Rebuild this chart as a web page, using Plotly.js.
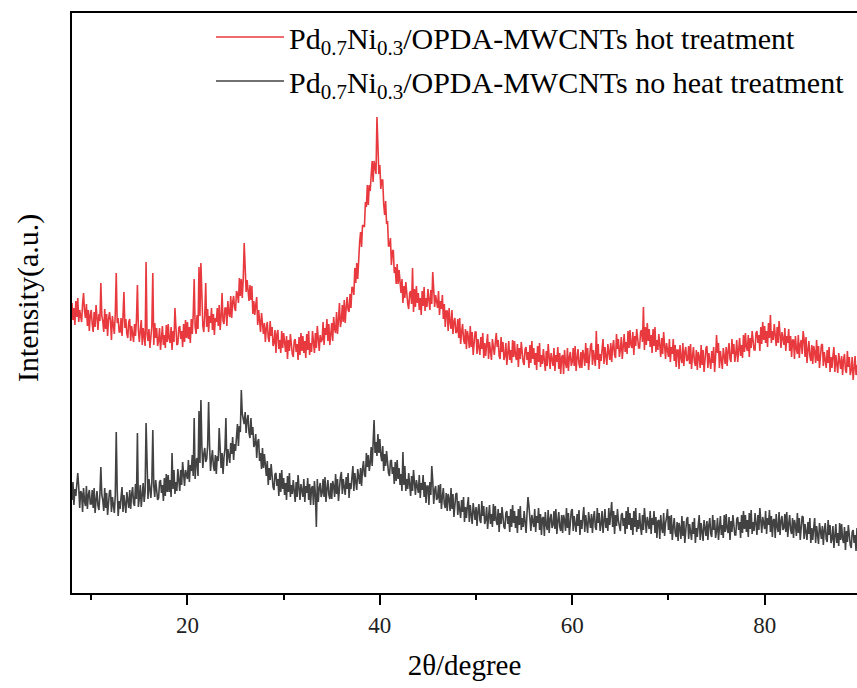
<!DOCTYPE html>
<html>
<head>
<meta charset="utf-8">
<script src="https://cdn.plot.ly/plotly-3.0.1.min.js"></script>
<style>html,body{margin:0;padding:0;background:#fff;}#chart{width:857px;height:688px;}</style>
</head>
<body>
<div id="chart"></div>
<script>
// 2theta grid: 8.0 to 89.9 step 0.1 (one row of 10 per degree)
const twoThetaStart = 8.0;
const twoThetaStep = 0.1;

const seriesNames = [
  "Pd<sub>0.7</sub>Ni<sub>0.3</sub>/OPDA-MWCNTs hot treatment",
  "Pd<sub>0.7</sub>Ni<sub>0.3</sub>/OPDA-MWCNTs no heat treatment"
];

const hotTreatment = [
  290,273,285,268,292,276,295,271,283,274,
  271,289,300,282,275,289,267,283,262,278,
  283,269,261,281,266,288,270,263,279,272,
  310,277,272,261,284,264,279,257,274,281,
  272,253,277,264,259,279,320,270,275,261,
  261,275,257,277,301,265,274,259,255,271,
  274,252,267,259,251,269,257,273,308,263,
  251,263,273,248,265,256,247,331,259,252,
  264,245,260,267,320,248,270,255,265,247,
  252,265,243,262,267,248,258,245,268,251,
  269,254,250,266,243,262,251,285,256,248,
  249,265,267,254,262,246,269,251,273,255,
  271,254,266,250,274,259,278,314,266,259,
  278,264,326,277,330,284,267,261,278,310,
  266,284,261,277,270,285,263,279,258,275,
  271,285,267,288,263,276,300,272,269,285,
  285,267,292,280,276,297,275,291,297,285,
  282,302,299,290,315,297,314,295,314,350,
  325,301,313,303,292,308,293,307,279,292,
  278,288,296,268,283,272,261,280,268,259,
  270,251,265,271,255,251,272,257,266,247,
  250,263,240,259,263,244,253,240,262,245,
  260,245,241,257,234,253,242,259,247,239,
  236,252,254,241,249,233,256,238,260,242,
  257,240,252,235,259,243,262,238,250,241,
  262,248,240,260,245,267,249,242,258,251,
  253,271,248,265,258,274,252,269,248,265,
  270,252,276,264,260,281,259,273,290,266,
  272,288,271,293,270,285,296,283,281,299,
  285,306,305,298,325,310,330,314,337,351,
  361,346,368,367,366,391,386,408,388,408,
  402,418,432,411,432,426,419,476,430,419,
  428,404,413,413,389,378,392,369,372,347,
  347,355,328,342,343,320,326,309,329,309,
  323,306,300,314,290,307,295,311,298,289,
  284,300,302,289,325,281,304,286,307,290,
  300,283,295,278,302,287,306,282,295,286,
  304,290,283,303,289,321,293,286,298,292,
  285,302,278,292,284,298,274,289,266,282,
  282,262,285,271,264,283,259,271,275,260,
  261,274,255,275,249,261,269,254,249,264,
  244,262,256,245,267,246,261,238,255,261,
  261,239,254,246,238,256,244,260,235,250,
  237,249,259,234,251,242,233,254,245,238,
  250,260,246,253,237,234,256,241,251,233,
  237,250,228,247,252,233,243,230,253,236,
  252,237,233,249,226,245,234,251,239,231,
  228,244,246,233,241,225,248,230,252,234,
  245,228,240,223,247,231,250,226,238,229,
  244,230,222,242,227,249,231,224,240,233,
  227,245,222,238,231,246,224,240,219,236,
  238,219,243,230,225,245,222,236,241,227,
  231,245,227,247,222,235,244,229,225,241,
  225,243,238,227,250,230,245,223,240,247,
  250,228,243,235,227,262,233,249,224,239,
  232,244,254,229,246,237,228,249,240,233,
  250,231,246,253,238,235,259,244,254,236,
  243,256,234,254,259,241,251,239,262,245,
  263,248,245,261,238,257,247,264,253,245,
  245,261,263,251,286,243,266,248,270,252,
  264,246,258,240,264,247,266,241,253,243,
  259,244,236,255,239,261,242,234,250,242,
  236,254,231,246,239,254,232,248,226,243,
  243,224,248,235,230,250,227,241,246,232,
  233,247,229,249,224,237,246,231,227,243,
  223,241,236,225,248,228,243,221,238,245,
  247,225,240,232,224,242,230,246,221,236,
  258,240,250,225,242,233,224,245,236,229,
  246,227,242,250,234,231,254,239,249,231,
  239,253,231,250,255,237,248,235,258,241,
  260,246,242,258,236,255,245,262,251,243,
  243,260,262,250,258,242,266,249,271,253,
  267,250,262,246,270,255,278,250,262,253,
  269,255,247,266,250,272,253,245,261,254,
  248,265,242,257,250,264,242,257,236,253,
  253,234,257,244,239,258,235,249,253,239,
  262,254,236,256,230,243,252,237,232,248,
  229,247,241,230,253,232,247,225,242,248,
  249,227,241,233,225,243,230,246,221,236,
  225,237,246,221,238,229,220,240,231,224,
  237,218,233,239,223,220,242,226,236,218,
  223,236,213,232,237,218,228,214,237,220
];

const noHeatTreatment = [
  93,111,88,104,97,112,120,106,85,102,
  100,81,105,92,87,107,84,98,103,89,
  89,103,85,105,80,93,102,87,83,99,
  126,98,93,82,105,85,100,78,95,102,
  103,81,96,88,80,98,161,102,77,92,
  84,96,106,81,98,89,80,101,92,85,
  103,84,99,106,90,87,109,94,160,86,
  95,108,86,105,110,91,101,170,111,94,
  114,99,95,111,163,107,96,113,101,93,
  95,111,113,100,108,92,115,97,119,101,
  118,101,113,96,140,104,123,99,111,102,
  124,110,102,123,108,131,113,107,123,117,
  114,133,111,128,122,138,117,175,114,132,
  135,117,182,130,193,147,125,139,145,131,
  134,147,191,148,122,134,143,127,122,138,
  119,137,132,165,144,125,140,119,136,144,
  175,127,144,137,130,150,139,156,133,149,
  142,156,169,147,167,161,203,179,173,169,
  181,160,173,178,160,155,175,158,166,146,
  149,159,135,151,154,132,140,124,145,125,
  139,123,117,132,108,125,113,129,116,106,
  103,119,120,107,114,97,120,101,123,104,
  115,98,110,93,117,101,120,96,108,99,
  113,99,91,111,96,118,100,93,109,102,
  96,114,91,107,100,115,93,109,88,105,
  107,88,112,99,66,114,91,105,110,96,
  100,114,96,116,91,104,113,98,94,110,
  94,112,107,96,119,99,114,92,109,116,
  121,99,114,106,98,116,104,120,95,110,
  104,116,127,102,120,111,103,124,116,109,
  125,107,124,132,118,116,140,126,138,122,
  130,146,127,149,173,140,151,137,159,140,
  154,138,132,147,122,139,127,142,129,120,
  117,132,133,119,126,109,131,112,133,114,
  125,108,119,102,141,108,127,102,114,104,
  120,106,97,117,102,123,105,98,113,106,
  100,118,95,110,103,118,96,111,90,107,
  107,88,111,98,127,112,89,103,107,93,
  95,108,90,109,84,96,105,89,85,100,
  82,99,94,82,105,84,99,76,93,99,
  100,78,92,84,75,93,81,96,71,86,
  75,87,96,71,88,78,69,90,80,73,
  86,67,82,89,73,70,92,77,87,69,
  73,86,64,83,88,69,79,66,89,72,
  87,72,68,84,61,80,69,86,74,66,
  64,80,82,69,77,61,84,66,88,70,
  82,65,77,60,84,68,87,63,75,66,
  82,68,60,80,96,87,69,62,78,71,
  66,84,61,77,70,85,63,79,58,75,
  76,57,81,68,63,83,60,74,79,65,
  68,82,64,84,59,72,81,66,62,78,
  60,78,73,62,85,65,80,58,75,82,
  84,62,77,69,61,79,67,83,58,73,
  64,76,86,61,78,69,60,81,72,65,
  79,60,75,82,66,63,85,70,80,62,
  69,82,60,79,84,65,75,62,85,68,
  85,91,66,82,59,78,67,84,72,64,
  62,78,80,67,75,59,82,64,86,68,
  80,63,75,58,82,66,85,61,73,64,
  80,66,58,78,63,85,67,60,76,69,
  64,82,59,75,68,82,60,76,55,72,
  73,54,78,65,60,80,57,70,75,84,
  63,77,59,78,53,66,75,60,56,71,
  52,70,65,54,77,57,72,50,67,74,
  76,54,69,61,53,71,59,75,50,65,
  56,68,78,53,70,61,52,73,64,57,
  72,53,68,75,59,56,78,63,73,55,
  62,75,53,72,77,58,68,55,78,61,
  79,64,60,76,53,72,61,78,66,58,
  58,74,76,63,71,55,78,60,82,64,
  78,61,73,56,80,64,83,59,71,62,
  80,66,58,78,63,85,67,60,76,69,
  64,82,59,75,68,83,61,77,56,73,
  74,55,79,66,61,81,58,72,77,63,
  65,79,61,81,56,69,78,63,59,75,
  55,73,68,57,80,60,75,53,70,77,
  76,54,69,61,53,71,59,75,50,65,
  53,65,75,50,67,58,49,70,61,54,
  67,48,63,70,54,51,73,58,68,50,
  54,67,45,64,69,50,60,47,70,53,
  69,54,50,66,43,62,51,68,56,48,
  45,61,63,50,58,42,65,47,69,51
];

const xTickVals = [20, 40, 60, 80];
const xTickText = ["20", "40", "60", "80"];
const xMinorTickVals = [10, 30, 50, 70, 90];
const xTitle = "2θ/degree";
const yTitle = "Intensity(a.u.)";

const twoTheta = hotTreatment.map((_, i) => +(twoThetaStart + i * twoThetaStep).toFixed(2));

const serif = "Liberation Serif, Times New Roman, serif";

const traces = [
  {
    x: twoTheta, y: hotTreatment, type: "scatter", mode: "lines",
    name: seriesNames[0], legendgroup: "a",
    line: {color: "rgb(232,58,62)", width: 1.6}
  },
  {
    x: twoTheta, y: noHeatTreatment, type: "scatter", mode: "lines",
    name: seriesNames[1], legendgroup: "b",
    line: {color: "rgb(66,66,66)", width: 1.6}
  }
];

const layout = {
  width: 857, height: 688,
  margin: {l: 72, r: 0, t: 13, b: 95, autoexpand: false},
  paper_bgcolor: "#fff", plot_bgcolor: "#fff",
  font: {family: serif, color: "#000", size: 24},
  showlegend: true,
  legend: {
    xref: "container", yref: "container",
    x: 211 / 857, y: 1 - 11 / 688, xanchor: "left", yanchor: "top",
    bgcolor: "rgba(0,0,0,0)", borderwidth: 0,
    font: {family: serif, size: 30, color: "#000"},
    tracegroupgap: 2, itemwidth: 68
  },
  xaxis: {
    range: [8, 89.6], showgrid: false, zeroline: false,
    showline: true, linecolor: "#000", linewidth: 2, mirror: true,
    ticks: "outside", ticklen: 10, tickwidth: 2, tickcolor: "#000",
    tickvals: xTickVals, ticktext: xTickText,
    tickfont: {family: serif, size: 23, color: "#222"},
    minor: {tickvals: xMinorTickVals, ticks: "outside", ticklen: 5, tickwidth: 2, tickcolor: "#000"},
    title: {text: xTitle, font: {family: serif, size: 29, color: "#000"}, standoff: 18}
  },
  yaxis: {
    range: [0, 580], showgrid: false, zeroline: false,
    showline: true, linecolor: "#000", linewidth: 2, mirror: false,
    ticks: "", showticklabels: false
  },
  annotations: [{
    text: yTitle, textangle: -90,
    xref: "paper", yref: "paper", x: (28 - 72) / 785, y: (593 - 298) / 580,
    xanchor: "center", yanchor: "middle", showarrow: false,
    font: {family: serif, size: 30, color: "#000"}
  }]
};

Plotly.newPlot("chart", traces, layout, {displayModeBar: false, staticPlot: true});
</script>
</body>
</html>
